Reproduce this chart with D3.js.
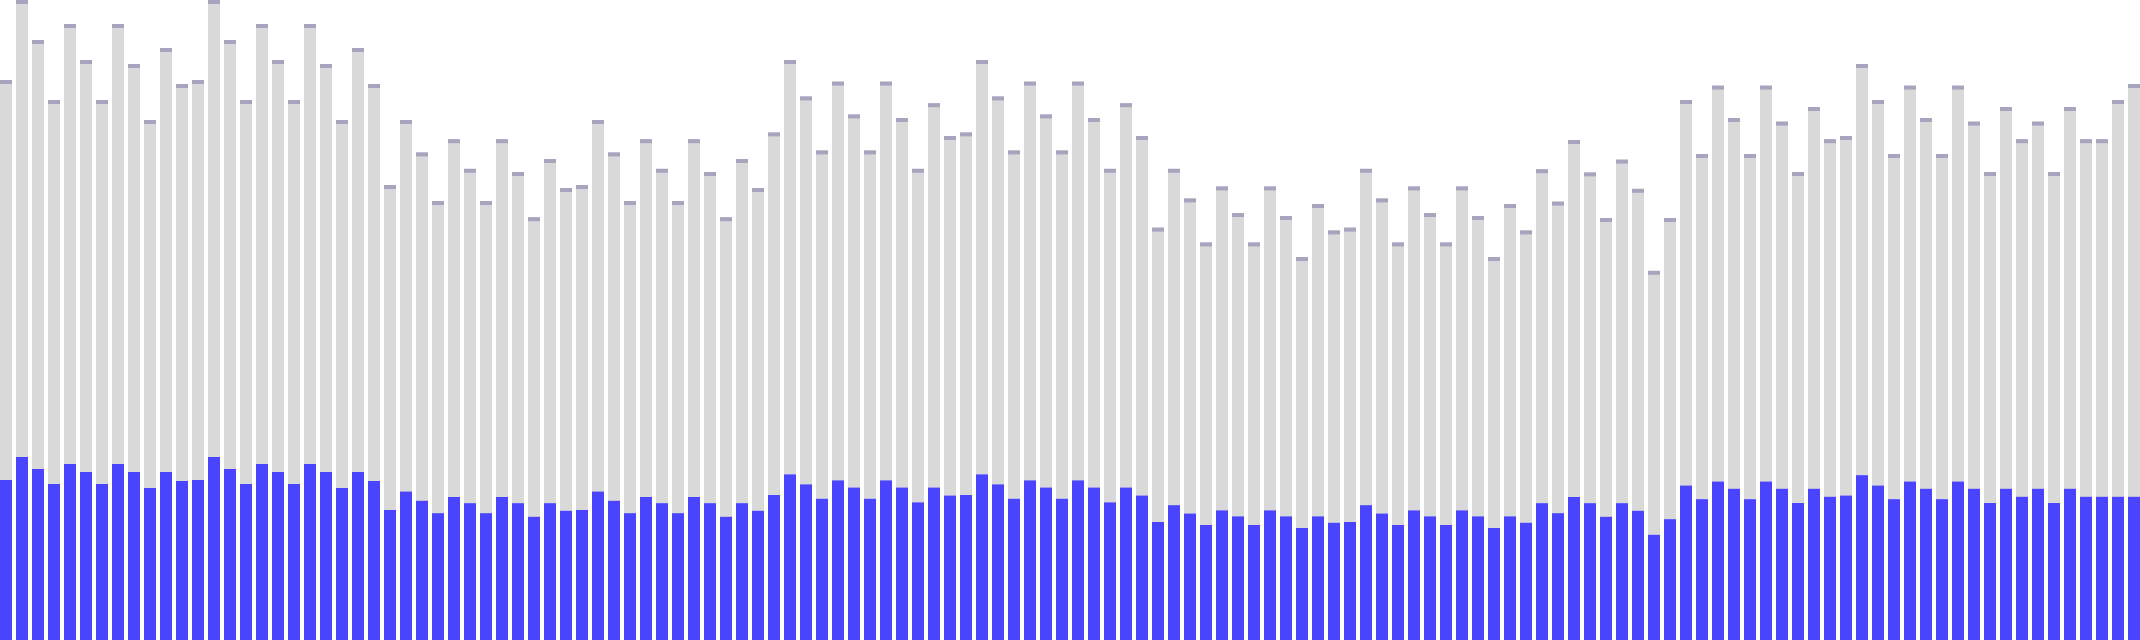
<!DOCTYPE html>
<html>
<head>
<meta charset="utf-8">
<script src="https://cdn.jsdelivr.net/npm/d3@7"></script>
<style>
  html, body { margin: 0; padding: 0; background: #ffffff; overflow: hidden; }
  svg { display: block; }
</style>
</head>
<body>
<svg id="chart" width="2140" height="640"></svg>
<script>
// Total (grey) values, one per bar
const totals = [
  140, 160, 150, 135, 154, 145, 135, 154, 144, 130, 148, 139,
  140, 160, 150, 135, 154, 145, 135, 154, 144, 130, 148, 139,
  113.75, 130, 121.9, 109.75, 125.2, 117.8, 109.75, 125.2, 117, 105.7, 120.25, 113,
  113.75, 130, 121.9, 109.75, 125.2, 117.8, 109.75, 125.2, 117, 105.7, 120.25, 113,
  126.9, 145, 135.9, 122.4, 139.6, 131.4, 122.4, 139.6, 130.5, 117.8, 134.2, 126,
  126.9, 145, 135.9, 122.4, 139.6, 131.4, 122.4, 139.6, 130.5, 117.8, 134.2, 126,
  103.1, 117.8, 110.4, 99.4, 113.4, 106.75, 99.4, 113.4, 106, 95.75, 109, 102.4,
  103.1, 117.8, 110.4, 99.4, 113.4, 106.75, 99.4, 113.4, 106, 95.75, 109, 102.4,
  117.7, 109.6, 125, 116.9, 105.5, 120.1, 112.8, 92.3, 105.5,
  135, 121.5, 138.6, 130.5, 121.5, 138.6, 129.6, 117, 133.25, 125.2, 126,
  144, 135, 121.5, 138.6, 130.5, 121.5, 138.6, 129.6, 117, 133.25, 125.2,
  129.6, 117, 133.25, 125.2, 125.2, 135, 139
];
// Highlighted (blue) values, one per bar
const values = [
  40, 45.75, 42.75, 39, 44, 42, 39, 44, 42, 38, 42, 39.75,
  40, 45.75, 42.75, 39, 44, 42, 39, 44, 42, 38, 42, 39.75,
  32.5, 37.1, 34.8, 31.7, 35.75, 34.2, 31.7, 35.75, 34.2, 30.8, 34.2, 32.3,
  32.5, 37.1, 34.8, 31.7, 35.75, 34.2, 31.7, 35.75, 34.2, 30.8, 34.2, 32.3,
  36.25, 41.4, 38.9, 35.3, 39.9, 38.1, 35.3, 39.9, 38.1, 34.4, 38.1, 36.1,
  36.25, 41.4, 38.9, 35.3, 39.9, 38.1, 35.3, 39.9, 38.1, 34.4, 38.1, 36.1,
  29.5, 33.7, 31.6, 28.75, 32.4, 30.9, 28.75, 32.4, 30.9, 28, 30.9, 29.3,
  29.5, 33.7, 31.6, 28.75, 32.4, 30.9, 28.75, 32.4, 30.9, 28, 30.9, 29.3,
  34.2, 31.7, 35.75, 34.2, 30.8, 34.2, 32.3, 26.3, 30.2,
  38.6, 35.2, 39.6, 37.8, 35.2, 39.6, 37.8, 34.25, 37.8, 35.8, 36.1,
  41.2, 38.6, 35.2, 39.6, 37.8, 35.2, 39.6, 37.8, 34.25, 37.8, 35.8,
  37.8, 34.25, 37.8, 35.8, 35.8, 35.8, 35.8
];
const categories = totals.map((_, i) => i);
const yMax = 160;

const W = 2140, H = 640;
const svg = d3.select("#chart");

const x = d3.scaleBand().domain(categories).range([0, W]).paddingInner(0.25).paddingOuter(0);
const y = d3.scaleLinear().domain([0, yMax]).range([H, 0]);

const g = svg.append("g");

g.selectAll("rect.total")
  .data(categories)
  .join("rect")
  .attr("class", "total")
  .attr("x", i => x(i))
  .attr("width", x.bandwidth())
  .attr("y", i => y(totals[i]))
  .attr("height", i => H - y(totals[i]))
  .attr("fill", "#d9d9d9");

g.selectAll("rect.cap")
  .data(categories)
  .join("rect")
  .attr("class", "cap")
  .attr("x", i => x(i))
  .attr("width", x.bandwidth())
  .attr("y", i => y(totals[i]))
  .attr("height", 4)
  .attr("fill", "#a6a5be");

g.selectAll("rect.value")
  .data(categories)
  .join("rect")
  .attr("class", "value")
  .attr("x", i => x(i))
  .attr("width", x.bandwidth())
  .attr("y", i => y(values[i]))
  .attr("height", i => H - y(values[i]))
  .attr("fill", "#4a44ff");
</script>
</body>
</html>
